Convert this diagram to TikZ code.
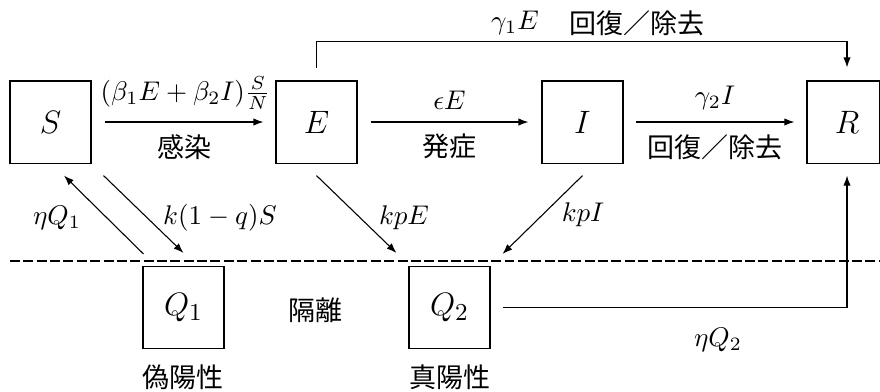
\documentclass[tikz,border=0pt]{standalone}
\usepackage{fontspec}
\newfontfamily\cjk{Noto Sans CJK JP}
\usetikzlibrary{arrows.meta,calc}
\tikzset{
  box/.style={draw,minimum width=30pt,minimum height=30.4pt,inner sep=0pt,font=\fontsize{13}{16}\selectfont},
  arr/.style={-{Latex[length=3.7pt,width=2.7pt]}},
  lab/.style={inner sep=0pt},
  qline/.style={dash pattern=on 3.7pt off 1.25pt},
}
\begin{document}
\begin{tikzpicture}[x=0.37037pt,y=-0.37037pt]
\useasboundingbox (0,0) rectangle (880,391);
% compartments
\node[box] (S) at (50.5,122) {$S$};
\node[box] (E) at (316.5,122) {$E$};
\node[box] (I) at (582.5,122) {$I$};
\node[box,minimum width=26.7pt] (R) at (843,122) {\hspace*{2.96pt}$R$};
\node[box] (Q1) at (183.5,307.5) {$Q_1$};
\node[box] (Q2) at (449.5,307.5) {$Q_2$};
% quarantine border
\coordinate (dl) at (10,261);
\coordinate (dr) at (880,261);
\draw[qline] (dl) -- (dr);
% main chain
\draw[arr] ($(S.east)+(13,0)$) -- ($(E.west)+(-12,0)$)
  node[midway,above,inner sep=0pt,yshift=4.3pt,xshift=0.6pt,font=\fontsize{10.4}{13}\selectfont] (l1) {$(\beta_1E+\beta_2I)\frac{S}{N}$}
  node[midway,below,yshift=-1pt] (l1b) {\cjk 感染};
\draw[arr] ($(E.east)+(13,0)$) -- ($(I.west)+(-13,0)$)
  node[midway,above,yshift=1pt] (l2) {$\epsilon E$}
  node[midway,below,yshift=-1pt] (l2b) {\cjk 発症};
\draw[arr] ($(I.east)+(12,0)$) -- ($(R.west)+(-12,0)$)
  node[midway,above,yshift=1pt] (l3) {$\gamma_2 I$}
  node[midway,below,yshift=-1pt] (l3b) {\cjk 回復／除去};
% E -> R over the top
\draw[arr] ($(E.north)+(0,-12)$) -- ++(0,-27) -| ($(R.north)+(4,-13)$);
\node[lab] (l4) at (515,23) {$\gamma_1 E$};
\node[lab] (l4b) at (637,23) {\cjk 回復／除去};
% quarantine flows
\draw[arr] ($(Q1.north west)+(1,-12)$) -- ($(S.south)+(13.5,12)$);
\node[lab] (l5) at (57,218) {$\eta Q_1$};
\draw[arr] ($(S.south east)+(12,12)$) -- ($(Q1.north)+(0,-13)$);
\node[lab] (l6) at (220,218) {$k(1-q)S$};
\draw[arr] ($(E.south)+(0,12)$) -- ($(Q2.north west)+(-12,-13)$);
\node[lab] (l7) at (404,218) {$kpE$};
\draw[arr] ($(I.south)+(0,12)$) -- ($(Q2.north east)+(12,-12)$);
\node[lab] (l8) at (583,215) {$kpI$};
\draw[arr] ($(Q2.east)+(12,0)$) -| ($(R.south)+(4,12)$);
\node[lab] (l9) at (718,340) {$\eta Q_2$};
% other texts
\node[lab] (t1) at (315,310) {\cjk 隔離};
\node[lab] (t2) at (183,377) {\cjk 偽陽性};
\node[lab] (t3) at (450,377) {\cjk 真陽性};
\end{tikzpicture}
\end{document}
